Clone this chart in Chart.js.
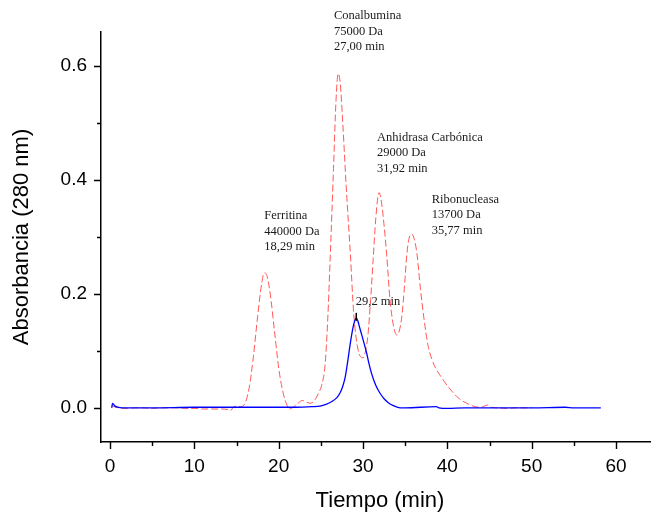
<!DOCTYPE html>
<html>
<head>
<meta charset="utf-8">
<script src="https://cdn.jsdelivr.net/npm/chart.js@4/dist/chart.umd.min.js"></script>
<style>
  html, body { margin: 0; padding: 0; background: #fff; }
  #wrap { width: 651px; height: 512px; }
</style>
</head>
<body>
<div id="wrap"><canvas id="chromChart" width="651" height="512"></canvas></div>
<script>
// 데이터
const redTime = [0.2, 0.5, 1, 2, 3, 4, 5, 6, 7, 8, 9, 10, 11, 12, 13, 14, 14.3, 14.6, 15, 15.5,
    16, 16.5, 17, 17.5, 18, 18.3, 18.6, 19, 19.5, 20, 20.5, 21, 21.3, 21.8, 22.3, 22.8, 23.3, 23.7,
    24.2, 24.7, 25.1, 25.5, 25.8, 26.1, 26.5, 26.8, 27.05, 27.3, 27.6, 28.0, 28.5, 28.9, 29.4, 30.0,
    30.3, 30.6, 30.9, 31.2, 31.5, 31.9, 32.2, 32.5, 32.8, 33.2, 33.6, 34.0, 34.3, 34.6, 34.9, 35.2,
    35.5, 35.8, 36.1, 36.4, 36.8, 37.2, 37.7, 38.2, 38.6, 39.1, 39.6, 40.1, 40.6, 41.1, 41.7, 42.3,
    43.3, 44, 44.8, 45.2, 46, 47, 48, 49, 50];
const redAbs = [0.004, 0.002, 0.0, -0.001, 0.0, 0.0, -0.001, 0.0, 0.0, 0.0, -0.001, -0.001, -0.002,
    -0.002, -0.002, -0.003, -0.005, 0.001, 0.003, 0.002,
    0.008, 0.035, 0.09, 0.16, 0.22, 0.237, 0.232, 0.2, 0.135, 0.07, 0.028, 0.004, -0.002, 0.002, 0.008,
    0.013, 0.01, 0.008, 0.012, 0.025, 0.04, 0.075, 0.15, 0.26, 0.42, 0.54, 0.587, 0.57, 0.5, 0.39,
    0.27, 0.165, 0.103, 0.088, 0.1, 0.13, 0.19, 0.26, 0.33, 0.378, 0.36, 0.32, 0.27, 0.19, 0.145,
    0.128, 0.135, 0.16, 0.21, 0.27, 0.3, 0.305, 0.295, 0.27, 0.21, 0.16, 0.11, 0.084, 0.07, 0.058,
    0.047, 0.037, 0.028, 0.02, 0.013, 0.008, 0.002, 0.001, 0.005, 0.001, 0.0, -0.001, 0.0, 0.0, 0.0];

const blueTime = [0.2, 0.3, 0.6, 1, 2, 5, 10, 15, 20, 22, 24, 24.9, 25.6, 26.3, 26.9, 27.3, 27.6,
    27.9, 28.2, 28.5, 28.8, 29.0, 29.2, 29.4, 29.6, 29.85, 30.15, 30.45, 30.7, 31.0, 31.5, 32.0,
    32.5, 33.0, 33.6, 34.4, 35, 38.7, 39, 40, 42, 45, 50, 54, 55, 58.2];
const blueAbs = [0.0, 0.008, 0.003, 0.001, 0.0, 0.0, 0.001, 0.001, 0.001, 0.001, 0.002, 0.003,
    0.006, 0.011, 0.018, 0.027, 0.038, 0.055, 0.083, 0.114, 0.14, 0.152, 0.158, 0.152, 0.141, 0.128,
    0.112, 0.095, 0.078, 0.061, 0.04, 0.026, 0.016, 0.009, 0.004, 0.0, 0.0, 0.002, 0.0, -0.001, 0.0,
    0.0, 0.0, 0.001, 0.0, 0.0];

const xMajorTicks = [0, 10, 20, 30, 40, 50, 60];
const xMinorTicks = [5, 15, 25, 35, 45, 55];
const yMajorTicks = [0.0, 0.2, 0.4, 0.6];
const yMinorTicks = [0.1, 0.3, 0.5];

// 피크 주석
const peakLabels = [
    ['Conalbumina', '75000 Da', '27,00 min'],
    ['Anhidrasa Carbónica', '29000 Da', '31,92 min'],
    ['Ribonucleasa', '13700 Da', '35,77 min'],
    ['Ferritina', '440000 Da', '18,29 min'],
    ['29,2 min']
];
const labelAnchors = [
    { x: 26.55, y: 0.688 },
    { x: 31.65, y: 0.475 },
    { x: 38.15, y: 0.366 },
    { x: 18.3, y: 0.337 },
    { x: 29.15, y: 0.187 }
];
const bluePeak = { x: 29.2, y: 0.158 };

const toXY = (xs, ys) => xs.map((x, i) => ({ x: x, y: ys[i] }));

/**
 * 눈금, 축 제목, 주석 그리기
 */
const decorPlugin = {
    id: 'decor',
    afterDraw(chart) {
        const { ctx, chartArea, scales } = chart;
        const xs = scales.x;
        const ys = scales.y;
        ctx.save();
        ctx.strokeStyle = '#000';
        ctx.lineWidth = 1.4;
        ctx.beginPath();
        xMajorTicks.forEach((v) => {
            const px = Math.round(xs.getPixelForValue(v)) + 0.5;
            ctx.moveTo(px, chartArea.bottom);
            ctx.lineTo(px, chartArea.bottom + 7);
        });
        xMinorTicks.forEach((v) => {
            const px = Math.round(xs.getPixelForValue(v)) + 0.5;
            ctx.moveTo(px, chartArea.bottom);
            ctx.lineTo(px, chartArea.bottom + 4);
        });
        yMajorTicks.forEach((v) => {
            const py = Math.round(ys.getPixelForValue(v)) + 0.5;
            ctx.moveTo(chartArea.left, py);
            ctx.lineTo(chartArea.left - 7, py);
        });
        yMinorTicks.forEach((v) => {
            const py = Math.round(ys.getPixelForValue(v)) + 0.5;
            ctx.moveTo(chartArea.left, py);
            ctx.lineTo(chartArea.left - 4, py);
        });
        ctx.stroke();

        // 파란 피크 표시
        const bx = xs.getPixelForValue(bluePeak.x);
        const by = ys.getPixelForValue(bluePeak.y);
        ctx.lineWidth = 1.5;
        ctx.beginPath();
        ctx.moveTo(bx, by - 5);
        ctx.lineTo(bx, by + 3);
        ctx.stroke();

        // 축 제목
        ctx.fillStyle = '#000';
        ctx.font = '22px "Liberation Sans", Arial, sans-serif';
        ctx.textAlign = 'center';
        ctx.textBaseline = 'middle';
        ctx.fillText('Tiempo (min)', (chartArea.left + chartArea.right) / 2 + 4, 501);
        ctx.save();
        ctx.translate(22, (chartArea.top + chartArea.bottom) / 2);
        ctx.rotate(-Math.PI / 2);
        ctx.fillText('Absorbancia (280 nm)', 0, 0);
        ctx.restore();

        // 주석 텍스트
        ctx.fillStyle = '#1a1a1a';
        ctx.font = '12.5px "Liberation Serif", "Times New Roman", serif';
        ctx.textAlign = 'left';
        peakLabels.forEach((lines, i) => {
            const ax = xs.getPixelForValue(labelAnchors[i].x);
            const ay = ys.getPixelForValue(labelAnchors[i].y);
            lines.forEach((line, j) => {
                ctx.fillText(line, ax, ay + j * 15.5);
            });
        });
        ctx.restore();
    }
};

function initChart() {
    const ctx = document.getElementById('chromChart');
    new Chart(ctx, {
        type: 'line',
        data: {
            datasets: [
                {
                    label: 'Patrones',
                    data: toXY(redTime, redAbs),
                    borderColor: 'rgba(255, 70, 70, 0.9)',
                    borderWidth: 1,
                    borderDash: [7, 3],
                    pointRadius: 0,
                    fill: false,
                    cubicInterpolationMode: 'monotone',
                    order: 2
                },
                {
                    label: 'Muestra',
                    data: toXY(blueTime, blueAbs),
                    borderColor: '#0000ff',
                    borderWidth: 1.3,
                    pointRadius: 0,
                    fill: false,
                    cubicInterpolationMode: 'monotone',
                    order: 1
                }
            ]
        },
        options: {
            responsive: false,
            animation: false,
            layout: { padding: { top: 32, right: 0, bottom: 0, left: 0 } },
            plugins: {
                legend: { display: false },
                tooltip: { enabled: false }
            },
            scales: {
                x: {
                    type: 'linear',
                    min: -1.07,
                    max: 64.15,
                    afterFit: (scale) => { scale.height = 70; },
                    grid: { display: false, drawTicks: false },
                    border: { display: true, color: '#000', width: 1.5 },
                    ticks: {
                        stepSize: 10,
                        includeBounds: false,
                        padding: 13,
                        color: '#000',
                        font: { family: '"Liberation Sans", Arial, sans-serif', size: 19 },
                        callback: (v) => String(v)
                    }
                },
                y: {
                    type: 'linear',
                    min: -0.06,
                    max: 0.66,
                    afterFit: (scale) => { scale.width = 101; },
                    grid: { display: false, drawTicks: false },
                    border: { display: true, color: '#000', width: 1.5 },
                    ticks: {
                        stepSize: 0.2,
                        includeBounds: false,
                        padding: 14,
                        color: '#000',
                        font: { family: '"Liberation Sans", Arial, sans-serif', size: 19 },
                        callback: (v) => Number(v).toFixed(1)
                    }
                }
            }
        },
        plugins: [decorPlugin]
    });
}

document.addEventListener('DOMContentLoaded', initChart);
</script>
</body>
</html>
